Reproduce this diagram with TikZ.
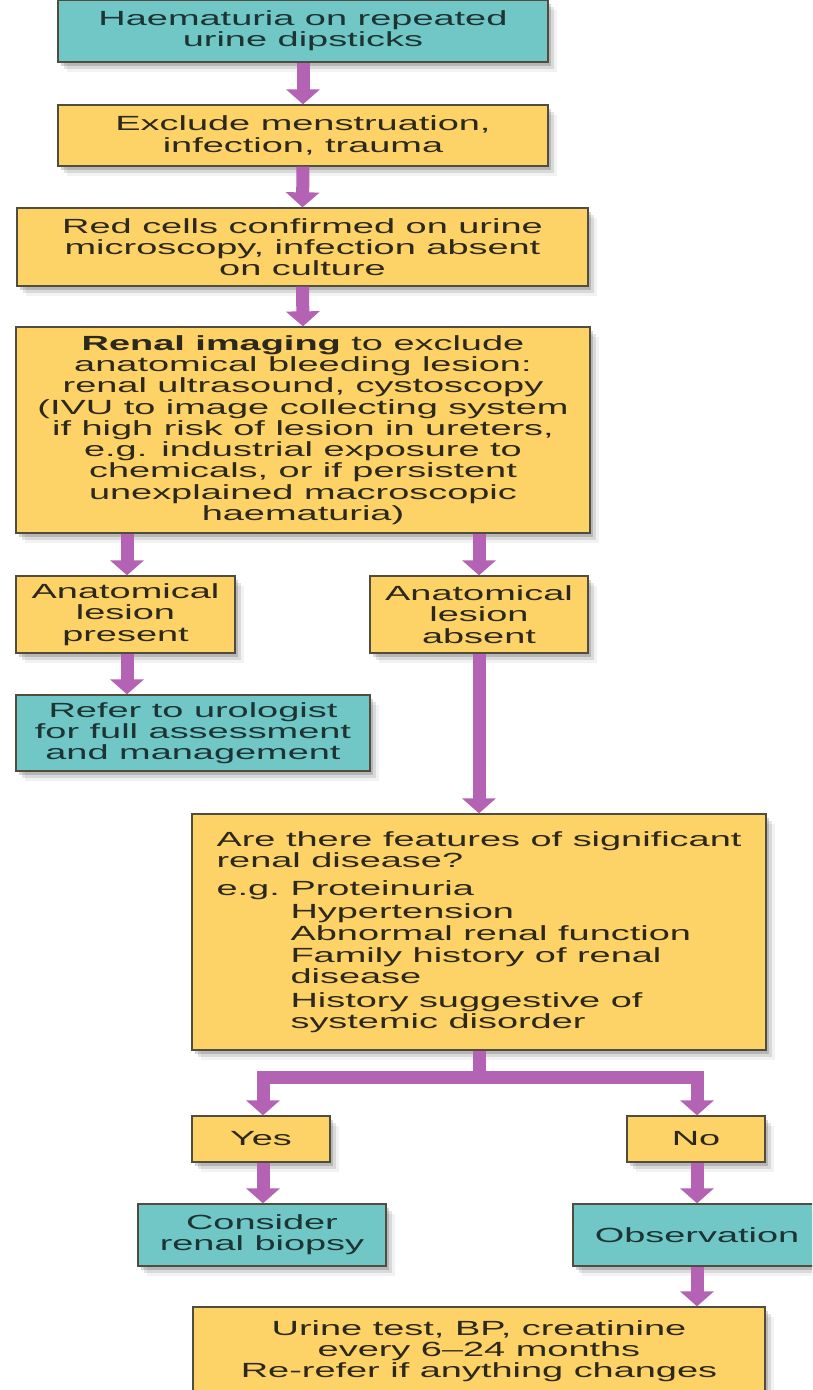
\documentclass[tikz,border=0pt]{standalone}
\usepackage{fontspec}
\setmainfont[FakeStretch=1.85]{Liberation Sans}
\usetikzlibrary{arrows.meta,shadows}
\definecolor{boxyellow}{RGB}{253,211,104}
\definecolor{boxcyan}{RGB}{112,199,197}
\definecolor{arrowpurple}{RGB}{180,98,180}
\definecolor{edgegray}{RGB}{80,76,62}
\definecolor{txty}{RGB}{45,40,28}
\definecolor{txtc}{RGB}{28,52,52}
\begin{document}
\begin{tikzpicture}[x=1pt,y=-1pt,
  box/.style={draw=edgegray, line width=1.3pt, inner sep=0pt, align=center,
     font=\fontsize{20.5}{21.25}\selectfont,
     drop shadow={shadow xshift=3pt,shadow yshift=-4pt,opacity=.16,fill=black},
     drop shadow={shadow xshift=6pt,shadow yshift=-7pt,opacity=.10,fill=black},
     drop shadow={shadow xshift=9pt,shadow yshift=-10pt,opacity=.05,fill=black}},
  ybox/.style={box, fill=boxyellow, text=txty},
  cbox/.style={box, fill=boxcyan, text=txtc},
  flow/.style={draw=arrowpurple, line width=13pt, line join=miter,
     -{Triangle[width=33pt,length=15pt]}}
]
\useasboundingbox (0,0) rectangle (812,1390);
\clip (0,0) rectangle (812,1390);
\fill[white] (0,0) rectangle (812,1390);

\node[cbox, minimum width=490pt, minimum height=62pt] (b1) at (303,31)
  {Haematuria on repeated\\urine dipsticks};
\node[ybox, minimum width=490pt, minimum height=61pt] (b2) at (303,135.5)
  {Exclude menstruation,\\infection, trauma};
\node[ybox, minimum width=571pt, minimum height=78pt] (b3) at (302.5,247)
  {Red cells confirmed on urine\\microscopy, infection absent\\on culture};
\node[ybox, minimum width=574pt, minimum height=206pt] (b4) at (303,430)
  {\textbf{Renal imaging} to exclude\\anatomical bleeding lesion:\\renal ultrasound, cystoscopy\\(IVU to image collecting system\\if high risk of lesion in ureters,\\e.g. industrial exposure to\\chemicals, or if persistent\\unexplained macroscopic\\haematuria)};
\node[ybox, minimum width=219pt, minimum height=77pt] (pres) at (125.5,614.5)
  {Anatomical\\lesion\\present};
\node[ybox, minimum width=218pt, minimum height=77pt] (abs) at (479,614.5)
  {Anatomical\\lesion\\absent};
\node[cbox, minimum width=354pt, minimum height=76pt] (uro) at (193,733)
  {Refer to urologist\\for full assessment\\and management};
\node[ybox, minimum width=574pt, minimum height=236pt, align=left] (q) at (479,932)
  {Are there features of significant\\
   renal disease?\\[7pt]
   \makebox[74pt][l]{e.g.}Proteinuria\\[1pt]
   \hspace*{74pt}Hypertension\\[1pt]
   \hspace*{74pt}Abnormal renal function\\[1pt]
   \hspace*{74pt}Family history of renal\\
   \hspace*{74pt}disease\\[2pt]
   \hspace*{74pt}History suggestive of\\
   \hspace*{74pt}systemic disorder};
\node[ybox, minimum width=138pt, minimum height=46pt] (yes) at (261,1139) {Yes};
\node[ybox, minimum width=138pt, minimum height=46pt] (no) at (696,1139) {No};
\node[cbox, minimum width=248pt, minimum height=62pt] (cons) at (262,1235)
  {Consider\\renal biopsy};
\node[cbox, minimum width=248pt, minimum height=62pt] (obs) at (697,1235)
  {Observation};
\node[ybox, minimum width=572pt, minimum height=88pt] (fin) at (479,1351)
  {Urine test, BP, creatinine\\every 6–24 months\\Re-refer if anything changes};

\draw[flow] (b1.south) -- (b2.north);
\draw[flow] (b2.south) -- (b3.north);
\draw[flow] (b3.south) -- (b4.north);
\draw[flow] ([xshift=1.5pt]pres.north |- b4.south) -- ([xshift=1.5pt]pres.north);
\draw[flow] (abs.north |- b4.south) -- (abs.north);
\draw[flow] ([xshift=1.5pt]pres.south) -- ([xshift=1.5pt]pres.south |- uro.north);
\draw[flow] (abs.south) -- (abs.south |- q.north);
\coordinate (split) at ([yshift=-27pt]q.south);
\draw[flow] (q.south) -- (split) -| ([xshift=2pt]yes.north);
\draw[flow] (q.south) -- (split) -| ([xshift=1pt]no.north);
\draw[flow] ([xshift=2pt]yes.south) -- ([xshift=2pt]yes.south |- cons.north);
\draw[flow] ([xshift=1pt]no.south) -- ([xshift=1pt]no.south |- obs.north);
\draw[flow] (obs.south) -- (obs.south |- fin.north);
\end{tikzpicture}
\end{document}
